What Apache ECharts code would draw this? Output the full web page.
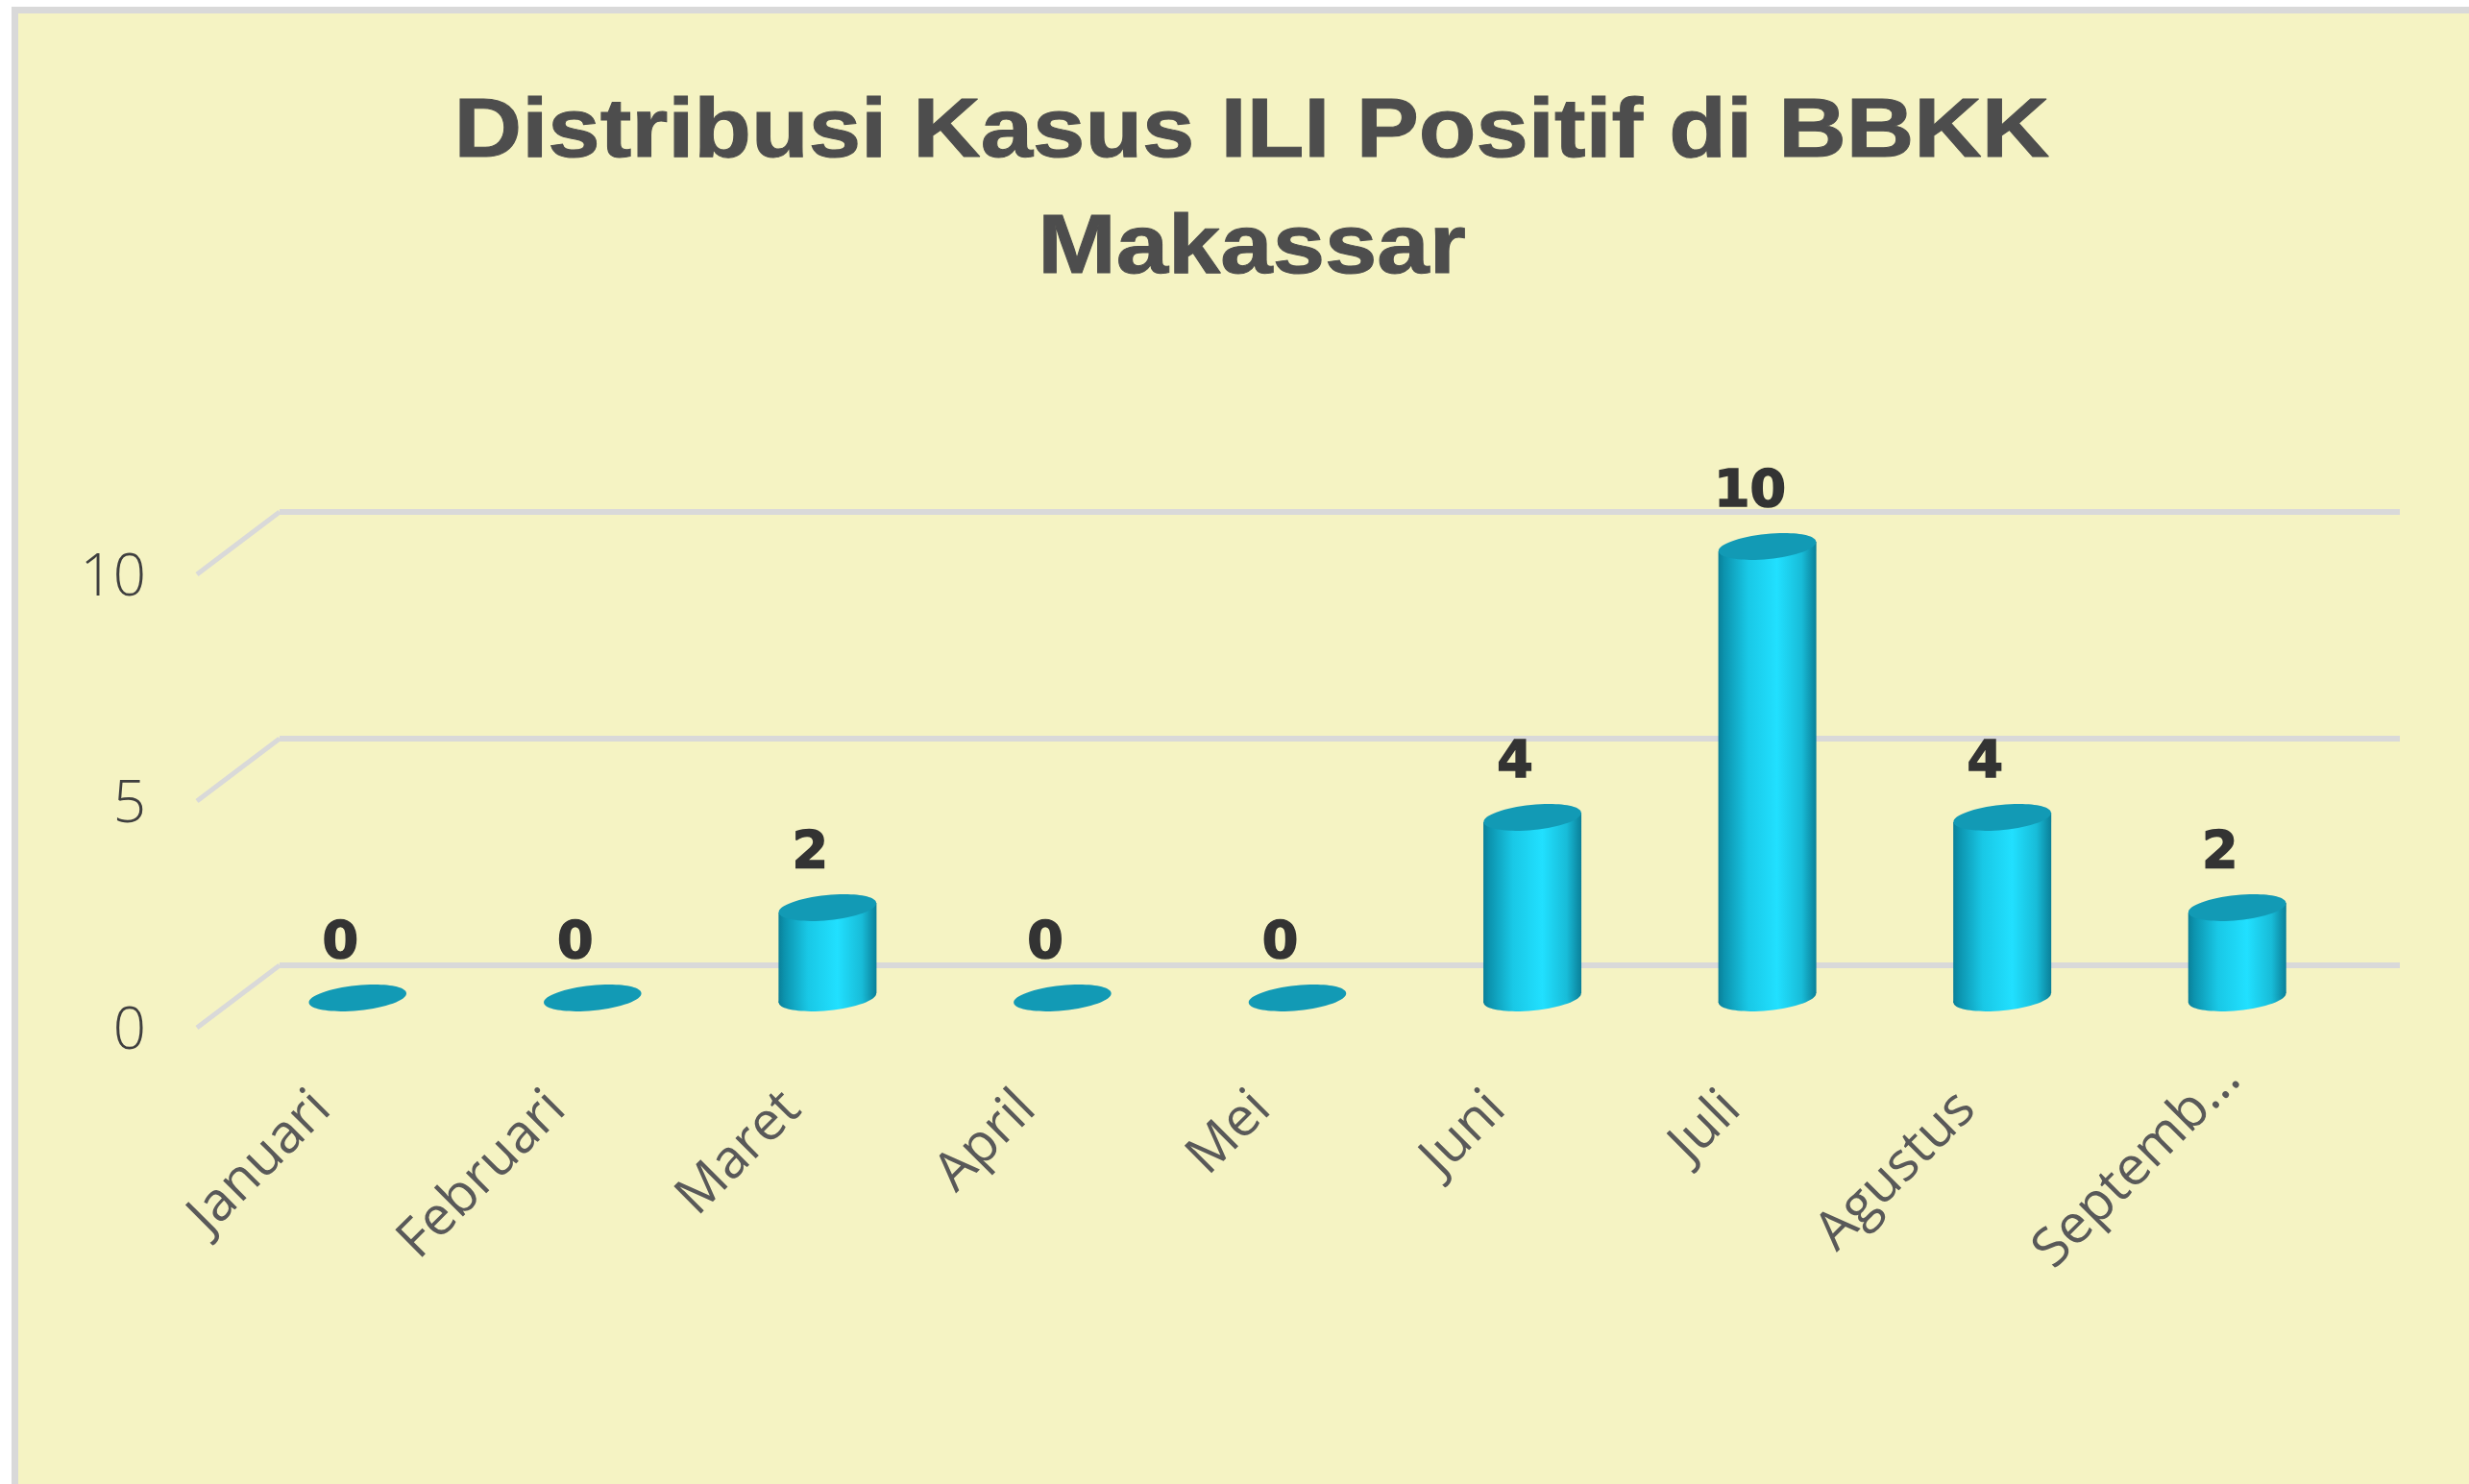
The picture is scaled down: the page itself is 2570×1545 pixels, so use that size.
<!DOCTYPE html>
<html>
<head>
<meta charset="utf-8">
<style>html,body{margin:0;padding:0;background:#fff}#c{width:2570px;height:1545px}</style>
<script src="https://cdn.jsdelivr.net/npm/echarts@6/dist/echarts.min.js"></script>
</head>
<body>
<div id="c"></div>
<script>
const months = ['Januari','Februari','Maret','April','Mei','Juni','Juli','Agustus','Septemb...'];
const cases = [0,0,2,0,0,4,10,4,2];
const yTicks = [0,5,10];
const titleText = 'Distribusi Kasus ILI Positif di BBKK\nMakassar';

const chart = echarts.init(document.getElementById('c'), null, {renderer:'canvas'});
const GRID = '#d9d9d9', BG = '#f5f3c3';
const sideGrad = {type:'linear',x:0,y:0,x2:1,y2:0,colorStops:[
  {offset:0,color:'#0a7f98'},{offset:0.06,color:'#0c93ae'},{offset:0.3,color:'#19c8e6'},
  {offset:0.6,color:'#21e0ff'},{offset:0.85,color:'#18bcd8'},{offset:1,color:'#0a7f98'}]};

function cylinder(params, api){
  const v = api.value(1);
  const base = api.coord([api.value(0),0]);
  const top = api.coord([api.value(0),v]);
  const rx = 51, ry = 13, rot = 0.1, tilt = 5;
  const x = base[0];
  const kids = [];
  if (v > 0) {
    kids.push({type:'ellipse',shape:{cx:x,cy:base[1],rx:rx,ry:ry},rotation:rot,originX:x,originY:base[1],style:{fill:sideGrad}});
    kids.push({type:'polygon',shape:{points:[[x-rx,top[1]+tilt],[x+rx,top[1]-tilt],[x+rx,base[1]-tilt],[x-rx,base[1]+tilt]]},style:{fill:sideGrad}});
  }
  kids.push({type:'ellipse',shape:{cx:x,cy:top[1],rx:rx,ry:ry},rotation:rot,originX:x,originY:top[1],style:{fill:'#129ab5'}});
  kids.push({type:'text',x:x-18,y:top[1]-56,style:{text:String(v),fill:'#333333',stroke:'#333333',lineWidth:1.5,font:'bold 54px "DejaVu Sans"',align:'center',verticalAlign:'middle'}});
  return {type:'group',children:kids};
}
function depthLine(params, api){
  const p = api.coord([0,api.value(0)]);
  return {type:'line',shape:{x1:p[0],y1:p[1]-5,x2:p[0]+86,y2:p[1]-70},style:{stroke:GRID,lineWidth:5}};
}

chart.setOption({
  animation:false,
  backgroundColor:'#ffffff',
  graphic:[
    {type:'rect',z:-10,silent:true,shape:{x:15.5,y:10.5,width:2700,height:1700},style:{fill:BG,stroke:GRID,lineWidth:7}},
    {type:'text',z:5,silent:true,x:1303,y:78,scaleX:1.11,originX:0,style:{text:titleText,fill:'#4d4d4d',stroke:'#4d4d4d',lineWidth:1,
      font:'bold 88px "Liberation Sans"',lineHeight:121,align:'center'}}
  ],
  grid:[
    {left:205,top:603,width:2207,height:472},
    {left:250,top:569,width:2201,height:470},
    {left:291,top:533,width:2207,height:472}
  ],
  xAxis:[
    {gridIndex:0,type:'value',min:0,max:1,show:false},
    {gridIndex:1,type:'category',
      data:months.map((m,i)=> i===months.length-1 ? {value:m,textStyle:{padding:[0,8,0,0]}} : m),
      axisLine:{show:false},axisTick:{show:false},
      axisLabel:{interval:0,rotate:45,margin:70,padding:[0,52,0,0],fontFamily:'"Open Sans"',fontSize:56,color:'#595959'}},
    {gridIndex:2,type:'value',min:0,max:1,show:false}
  ],
  yAxis:[
    {gridIndex:0,type:'value',min:0,max:10,interval:5,axisLine:{show:false},axisTick:{show:false},splitLine:{show:false},
      axisLabel:{margin:53,fontFamily:'"Open Sans"',fontWeight:300,fontSize:60,color:'#3f3f3f'}},
    {gridIndex:1,type:'value',min:0,max:10,interval:5,show:false},
    {gridIndex:2,type:'value',min:0,max:10,interval:5,axisLine:{show:false},axisTick:{show:false},axisLabel:{show:false},
      splitLine:{lineStyle:{color:GRID,width:6}}}
  ],
  series:[
    {type:'custom',name:'depth',xAxisIndex:0,yAxisIndex:0,data:yTicks.map(v=>[v]),renderItem:depthLine,silent:true,clip:false,z:1,encode:{y:0}},
    {type:'custom',name:'Kasus',xAxisIndex:1,yAxisIndex:1,data:months.map((m,i)=>[i,cases[i]]),renderItem:cylinder,clip:false,z:3,encode:{x:0,y:1}}
  ]
});
</script>
</body>
</html>
